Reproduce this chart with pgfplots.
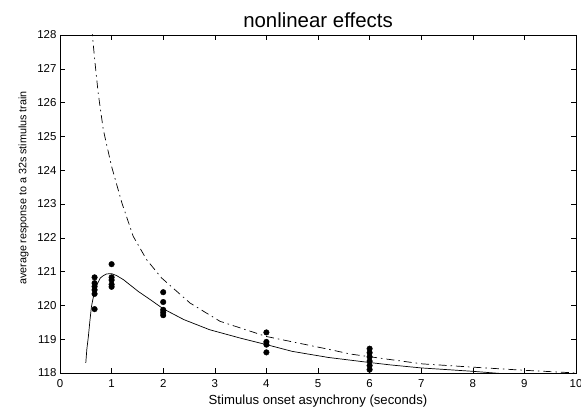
\documentclass[border=0pt]{standalone}
\usepackage{fontspec}
\setmainfont{Liberation Sans}
\usepackage{pgfplots}
\pgfplotsset{compat=1.18}

\begin{document}
\begin{tikzpicture}
\begin{axis}[name=ax,
  scale only axis, width=516bp, height=338bp,
  xmin=0, xmax=10, ymin=118, ymax=128,
  xtick={0,1,...,10}, ytick={118,119,...,128},
  tick align=inside, major tick length=5bp,
  tick style={black, line width=0.5bp},
  axis line style={line width=0.6bp},
  /pgf/number format/assume math mode=true,
  ticklabel style={font=\fontsize{11.5}{13}\selectfont},
  xticklabel style={yshift=-3bp},
  title={nonlinear effects},
  title style={font=\fontsize{20.5}{24}\selectfont, yshift=-2bp},
  xlabel={Stimulus onset asynchrony (seconds)},
  xlabel style={font=\fontsize{13.2}{14}\selectfont, yshift=0bp},
  ylabel={average response to a 32s stimulus train},
  ylabel style={font=\fontsize{10.8}{12}\selectfont, yshift=2bp, xshift=16bp},
]
% model fit (solid)
\addplot[black, line width=0.7bp] coordinates {
 (0.50,118.30)(0.52,118.70)(0.55,119.08)(0.58,119.55)(0.61,119.97)(0.64,120.20)
 (0.68,120.46)(0.72,120.62)(0.78,120.81)(0.84,120.88)(0.90,120.93)(1.00,120.94)
 (1.10,120.88)(1.23,120.76)(1.52,120.41)(1.75,120.17)(2.00,119.90)(2.40,119.58)
 (2.90,119.28)(3.50,119.03)(4.00,118.84)(4.50,118.64)(5.20,118.46)(6.00,118.31)
 (6.40,118.24)(7.00,118.15)(8.00,118.05)(8.50,117.99)(9.00,117.95)(10.00,117.88)};
% linear prediction (dash-dot)
\addplot[black, line width=0.7bp, dash pattern=on 8bp off 4bp on 1.5bp off 4bp] coordinates {
 (0.62,128.20)(0.63,127.95)(0.68,127.16)(0.74,126.28)(0.84,125.19)(1.00,124.11)
 (1.20,123.03)(1.42,122.04)(1.68,121.35)(1.97,120.81)(2.52,120.07)(3.10,119.53)
 (4.00,119.08)(5.18,118.71)(5.63,118.56)(6.34,118.41)(7.02,118.27)(8.03,118.17)
 (9.00,118.08)(9.77,118.02)(10.00,118.00)};
% measured responses
\addplot[only marks, mark=*, mark size=2.8bp, black] coordinates {
 (0.67,120.83)(0.67,120.66)(0.67,120.56)(0.67,120.46)(0.67,120.34)(0.67,119.89)
 (1,121.22)(1,120.83)(1,120.75)(1,120.62)(1,120.55)
 (2,120.39)(2,120.10)(2,119.87)(2,119.79)(2,119.71)
 (4,119.20)(4,118.92)(4,118.84)(4,118.61)
 (6,118.72)(6,118.60)(6,118.48)(6,118.35)(6,118.22)(6,118.10)};
\end{axis}
\pgfresetboundingbox
\path ([xshift=-60bp,yshift=-35bp]ax.south west) rectangle ([xshift=5bp,yshift=35bp]ax.north east);
\end{tikzpicture}
\end{document}
